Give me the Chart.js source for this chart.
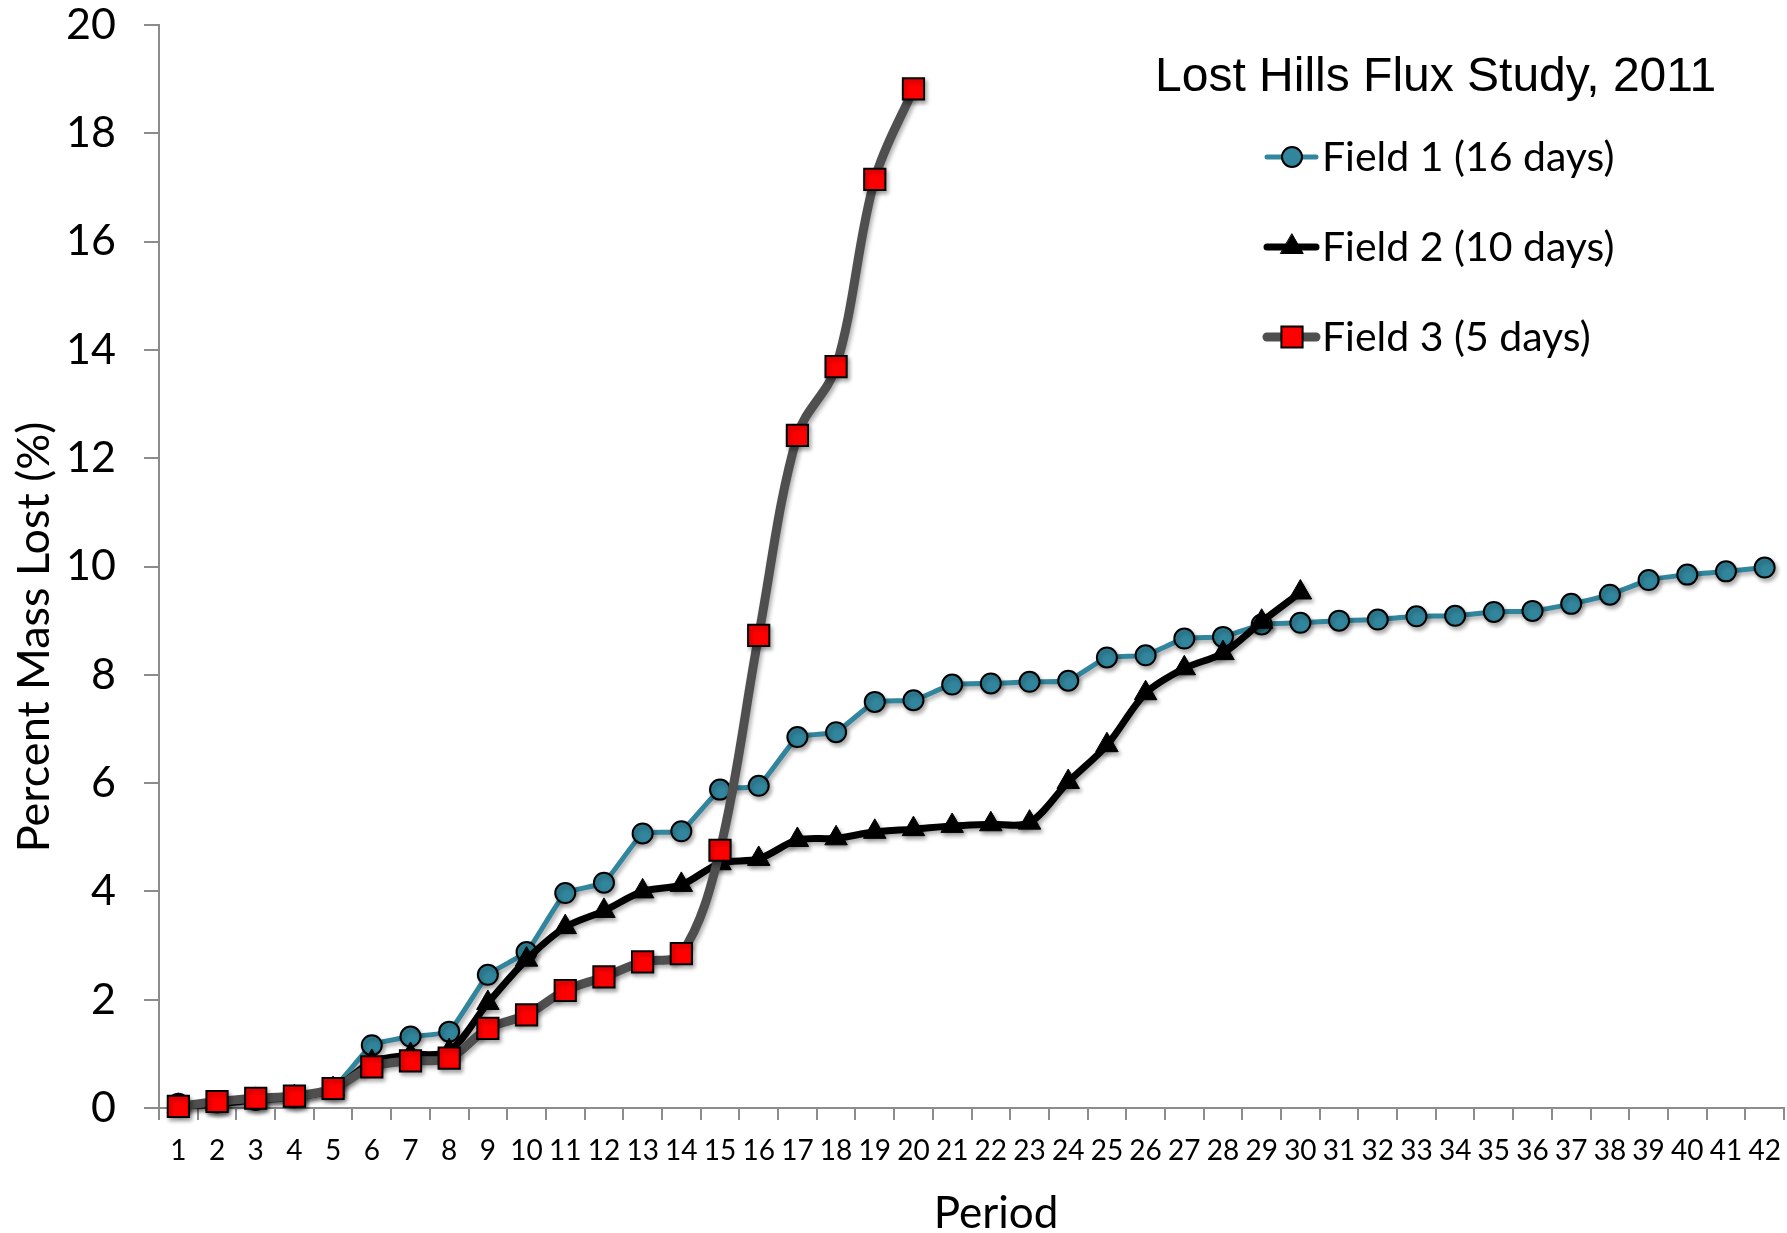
<!DOCTYPE html>
<html>
<head>
<meta charset="utf-8">
<script src="https://cdn.jsdelivr.net/npm/chart.js@4/dist/chart.umd.min.js"></script>
<style>
  html, body { margin: 0; padding: 0; background: #ffffff; }
  #wrap { width: 1787px; height: 1233px; }
</style>
</head>
<body>
<div id="wrap"><canvas id="chart" width="1787" height="1233"></canvas></div>
<script>
// ─── Data ─────────────────────────────────────────────────────────────────────
const periods = ['1','2','3','4','5','6','7','8','9','10','11','12','13','14',
    '15','16','17','18','19','20','21','22','23','24','25','26','27','28',
    '29','30','31','32','33','34','35','36','37','38','39','40','41','42'];

const field1 = [0.08, 0.1, 0.15, 0.2, 0.36, 1.16, 1.32, 1.41, 2.46, 2.88,
    3.97, 4.16, 5.07, 5.11, 5.88, 5.95, 6.85, 6.94, 7.5, 7.53,
    7.82, 7.84, 7.87, 7.89, 8.32, 8.36, 8.67, 8.7, 8.93, 8.96,
    9.0, 9.02, 9.08, 9.09, 9.16, 9.18, 9.31, 9.48, 9.75, 9.85,
    9.91, 9.98];

const field2 = [0.04, 0.07, 0.15, 0.2, 0.35, 0.85, 0.98, 1.05, 1.94, 2.74,
    3.34, 3.64, 4.0, 4.12, 4.52, 4.6, 4.95, 4.98, 5.1, 5.15,
    5.21, 5.24, 5.27, 6.02, 6.7, 7.66, 8.12, 8.4, 8.98, 9.52];

const field3 = [0.03, 0.12, 0.18, 0.22, 0.36, 0.76, 0.87, 0.92, 1.47, 1.72,
    2.17, 2.42, 2.7, 2.85, 4.76, 8.73, 12.42, 13.69, 17.15, 18.82];

const seriesNames = ['Field 1 (16 days)', 'Field 2 (10 days)', 'Field 3 (5 days)'];
const chartTitle  = 'Lost Hills Flux Study, 2011';
const xTitle      = 'Period';
const yTitle      = 'Percent Mass Lost (%)';

// ─── Styles ───────────────────────────────────────────────────────────────────
const TEAL   = '#31859c';
const GREY   = '#4f4f4f';
const AXIS   = '#8c8c8c';
const FONT   = 'Lato, "Open Sans", sans-serif';

// soft drop shadow under every series, like the spreadsheet original
const shadowPlugin = {
    id: 'shadow',
    beforeDatasetDraw(chart) {
        const ctx = chart.ctx;
        ctx.save();
        ctx.shadowColor   = 'rgba(0,0,0,0.32)';
        ctx.shadowBlur    = 4;
        ctx.shadowOffsetX = 2;
        ctx.shadowOffsetY = 3;
    },
    afterDatasetDraw(chart) {
        chart.ctx.restore();
    }
};

// axis titles (placed like the original, slightly off-centre) + title/legend block
const labelsPlugin = {
    id: 'labelsBlock',
    afterDraw(chart) {
        const ctx = chart.ctx;
        ctx.save();
        ctx.fillStyle = '#000';

        ctx.font = '44px ' + FONT;
        ctx.textAlign = 'center';
        ctx.textBaseline = 'middle';
        ctx.fillText(xTitle, 996, 1214);
        ctx.save();
        ctx.translate(34, 637);
        ctx.rotate(-Math.PI / 2);
        ctx.font = '45px ' + FONT;
        ctx.fillText(yTitle, 0, 0);
        ctx.restore();

        ctx.textAlign = 'left';
        ctx.textBaseline = 'alphabetic';
        ctx.font = '48px "Liberation Sans", Arial, sans-serif';
        ctx.fillText(chartTitle, 1155, 91);

        chart.data.datasets.forEach((ds, i) => {
            const y = 157 + i * 90;
            ctx.save();
            ctx.strokeStyle = ds.borderColor;
            ctx.lineWidth   = ds.borderWidth;
            ctx.lineCap     = 'round';
            ctx.beginPath();
            ctx.moveTo(1267, y);
            ctx.lineTo(1316, y);
            ctx.stroke();

            ctx.fillStyle   = ds.pointBackgroundColor;
            ctx.strokeStyle = ds.pointBorderColor;
            ctx.lineWidth   = ds.pointBorderWidth;
            Chart.helpers.drawPoint(ctx, {
                pointStyle: ds.pointStyle,
                radius: ds.pointRadius,
                borderWidth: ds.pointBorderWidth,
                rotation: 0
            }, 1292, y);
            ctx.restore();

            ctx.fillStyle = '#000';
            ctx.font = '41px ' + FONT;
            ctx.fillText(ds.label, 1322, y + 14);
        });
        ctx.restore();
    }
};

const ctx = document.getElementById('chart').getContext('2d');
new Chart(ctx, {
    type: 'line',
    data: {
        labels: periods,
        datasets: [
            {
                label: seriesNames[0],
                data: field1,
                borderColor: TEAL,
                borderWidth: 5,
                tension: 0.12,
                pointStyle: 'circle',
                pointRadius: 10,
                pointBackgroundColor: TEAL,
                pointBorderColor: '#000',
                pointBorderWidth: 2,
                clip: false,
                order: 3
            },
            {
                label: seriesNames[1],
                data: field2,
                borderColor: '#000',
                borderWidth: 7,
                tension: 0.3,
                pointStyle: 'triangle',
                pointRadius: 13,
                pointBackgroundColor: '#000',
                pointBorderColor: '#000',
                pointBorderWidth: 1,
                clip: false,
                order: 2
            },
            {
                label: seriesNames[2],
                data: field3,
                borderColor: GREY,
                borderWidth: 9,
                tension: 0.35,
                pointStyle: 'rect',
                pointRadius: 15,
                pointBackgroundColor: '#ff0000',
                pointBorderColor: '#000',
                pointBorderWidth: 2,
                clip: false,
                order: 1
            }
        ]
    },
    options: {
        responsive: false,
        devicePixelRatio: 1,
        animation: false,
        layout: { autoPadding: false, padding: { left: 0, right: 3, top: 25, bottom: 0 } },
        plugins: {
            legend:  { display: false },
            tooltip: { enabled: false }
        },
        scales: {
            x: {
                type: 'category',
                offset: true,
                border: { color: AXIS, width: 2 },
                grid: { offset: true, drawOnChartArea: false, tickLength: 12, color: AXIS, lineWidth: 2 },
                ticks: {
                    autoSkip: false, maxRotation: 0, color: '#000',
                    font: { family: FONT, size: 28 }, padding: 14
                },
                afterFit: (s) => { s.height = 125; s.paddingLeft = 0; s.paddingRight = 0; }
            },
            y: {
                min: 0,
                max: 20,
                border: { color: AXIS, width: 2 },
                grid: { drawOnChartArea: false, tickLength: 15, color: AXIS, lineWidth: 2 },
                ticks: {
                    stepSize: 2, color: '#000',
                    font: { family: FONT, size: 43 }, padding: 28
                },
                afterFit: (s) => { s.width = 159; s.paddingTop = 0; s.paddingBottom = 0; }
            }
        }
    },
    plugins: [shadowPlugin, labelsPlugin]
});
</script>
</body>
</html>
